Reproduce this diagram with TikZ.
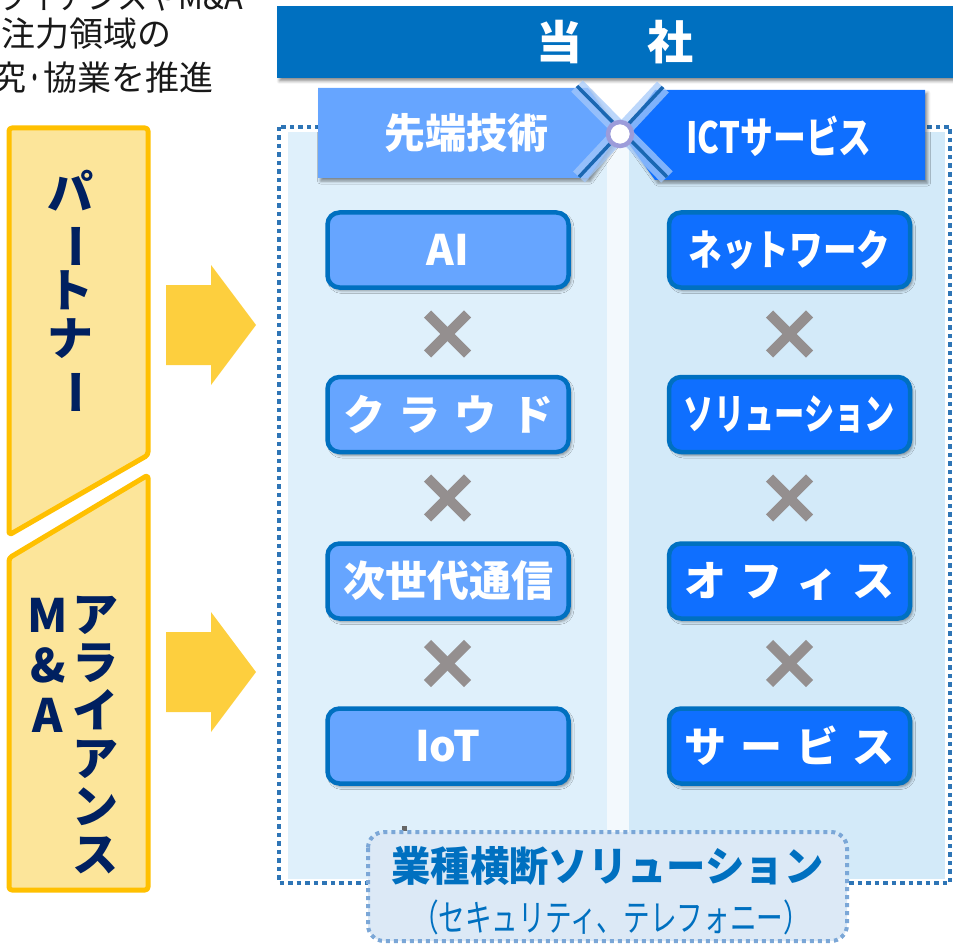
\documentclass[tikz,border=0pt]{standalone}
\usepackage{fontspec}
\usepackage{graphicx}
\setmainfont{Noto Sans CJK JP}
\usetikzlibrary{shadows.blur}
\definecolor{barblue}{HTML}{0070C0}
\definecolor{lightbox}{HTML}{66A5FF}
\definecolor{darkbox}{HTML}{0F6FFF}
\definecolor{panelL}{HTML}{DFF0FB}
\definecolor{panelR}{HTML}{D3EAF9}
\definecolor{gapcol}{HTML}{F3F9FD}
\definecolor{framecol}{HTML}{2E75B6}
\definecolor{crossgray}{HTML}{948F8F}
\definecolor{yelfill}{HTML}{FCE59A}
\definecolor{yeldraw}{HTML}{FFC000}
\definecolor{arrowyel}{HTML}{FDCF3E}
\definecolor{navytext}{HTML}{002060}
\definecolor{botfill}{HTML}{DCE9F6}
\definecolor{botdraw}{HTML}{7BA7D7}
\definecolor{xline}{HTML}{1A67B2}
\definecolor{glowblue}{HTML}{A5C9FA}
\definecolor{hubring}{HTML}{9C9CDA}
\begin{document}
\begin{tikzpicture}[x=1pt,y=-1pt,
  softshadow/.style={blur shadow={shadow xshift=2.5pt, shadow yshift=-3pt, shadow blur radius=3pt, shadow opacity=45}},
  tbox/.style={rounded corners=12pt, line width=4.5pt, draw=barblue, minimum width=241pt, minimum height=75pt, inner sep=0pt, text=white, font=\fontsize{42}{48}\selectfont\bfseries, softshadow},
  lbox/.style={tbox, fill=lightbox},
  rbox/.style={tbox, fill=darkbox},
  crossmark/.style={line width=10pt, crossgray, line cap=butt},
  yelshape/.style={line width=5pt, draw=yeldraw, fill=yelfill, rounded corners=3pt, line join=round},
  yelarrow/.style={fill=arrowyel},
  vtext/.style={inner sep=0pt, text=navytext, align=center, font=\fontsize{46}{48}\selectfont\bfseries},
  toptext/.style={anchor=base east, inner sep=0pt, text=black!90, font=\fontsize{34}{40}\selectfont},
  headtext/.style={inner sep=0pt, text=white, font=\fontsize{41}{48}\selectfont\bfseries}
]
\useasboundingbox (0,0) rectangle (953,944);

% top-left caption (cut by the page edge, as in the reference)
\node[toptext] (cap1) at (243,10) {\scalebox{0.9}[1]{ライアンスやM\&A}};
\node[toptext] (cap2) at (172,47) {注力領域の};
\node[toptext] (cap3) at (214,91) {究\scalebox{0.5}[1]{・}協業を推進};

% panels
\fill[panelL] (288,132) rectangle (607,879);
\fill[gapcol] (607,132) rectangle (629,879);
\fill[panelR] (629,132) rectangle (945,879);
% dotted frame
\draw[framecol, line width=4.5pt, dash pattern=on 4.5pt off 4pt] (279,127) rectangle (950,883);

% top bar
\fill[barblue, softshadow] (277,6) rectangle (960,78);
\node[inner sep=0pt, text=white, font=\fontsize{46}{50}\selectfont\bfseries] (company) at (615,42) {当\hspace{65pt}社};

% header boxes
\fill[lightbox, softshadow] (318,88) -- (588,88) -- (620,133) -- (588,178) -- (318,178) -- cycle;
\fill[darkbox, softshadow] (925,90) -- (655,90) -- (622,134) -- (655,180) -- (925,180) -- cycle;
\draw[glowblue, line width=16pt, opacity=0.75] (577,86) -- (667,177);
\draw[glowblue, line width=16pt, opacity=0.75] (663,87) -- (579,177);
\draw[xline, line width=3.5pt] (577,86) -- (667,177);
\draw[xline, line width=3.5pt] (663,87) -- (579,177);
\node[circle, draw=hubring, line width=4.5pt, fill=white, minimum size=24pt, inner sep=0pt] (hub) at (620,134) {};
\node[headtext] (hL) at (466,133) {先端技術};
\node[headtext] (hR) at (779,136) {\scalebox{0.8}[1.05]{ICTサービス}};

% left column boxes
\node[lbox] (ai) at (448,250) {AI};
\node[lbox] (cloud) at (448,414.5) {ク\hspace{14pt}ラ\hspace{14pt}ウ\hspace{14pt}ド};
\node[lbox] (nextgen) at (448,581) {次世代通信};
\node[lbox] (iot) at (448,746) {IoT};
% right column boxes
\node[rbox] (net) at (789.5,250) {\scalebox{0.8}[1]{ネットワーク}};
\node[rbox] (sol) at (789.5,414.5) {\scalebox{0.72}[1]{ソリューション}};
\node[rbox] (office) at (789.5,581) {オ\hspace{14pt}フ\hspace{14pt}ィ\hspace{14pt}ス};
\node[rbox] (service) at (789.5,746) {サ\hspace{14pt}ー\hspace{14pt}ビ\hspace{14pt}ス};

% cross marks
\foreach \cx in {447.5,789.5}{
  \foreach \cy in {334,498,663.5}{
    \draw[crossmark] (\cx-20,\cy-20) -- (\cx+20,\cy+20);
    \draw[crossmark] (\cx-20,\cy+20) -- (\cx+20,\cy-20);
  }
}

% bottom box
\fill[black!60] (402,826) rectangle (407,831);
\draw[botdraw, fill=botfill, line width=4pt, dash pattern=on 4pt off 4pt, rounded corners=16pt] (368,832) rectangle (847,941);
\node[inner sep=0pt, text=barblue, font=\fontsize{41}{44}\selectfont\bfseries] (cross1) at (607.5,866) {\scalebox{0.96}[1]{業種横断ソリューション}};
\node[inner sep=0pt, text=barblue, font=\fontsize{37}{40}\selectfont] (cross2) at (611,917) {\scalebox{0.72}[1]{（セキュリティ、テレフォニー）}};

% left yellow shapes
\path[yelshape] (9,128) -- (148,128) -- (148,455) -- (9,535) -- cycle;
\path[yelshape] (148,475) -- (148,890) -- (9,890) -- (9,558) -- cycle;
\node[vtext] (partner) at (70,293) {パ\\\rotatebox[origin=c]{-90}{ー}\\ト\\ナ\\\rotatebox[origin=c]{-90}{ー}};
\node[vtext] (alliance) at (95,735) {ア\\ラ\\イ\\ア\\ン\\ス};
\node[vtext, font=\fontsize{46}{50}\selectfont\bfseries] (ma) at (48,665) {M\\\&\\A};

% yellow arrows
\fill[yelarrow] (166,285) -- (211,285) -- (211,265) -- (256,325) -- (211,385) -- (211,365) -- (166,365) -- cycle;
\fill[yelarrow] (166,632) -- (211,632) -- (211,612) -- (256,672) -- (211,732) -- (211,712) -- (166,712) -- cycle;
\end{tikzpicture}
\end{document}
